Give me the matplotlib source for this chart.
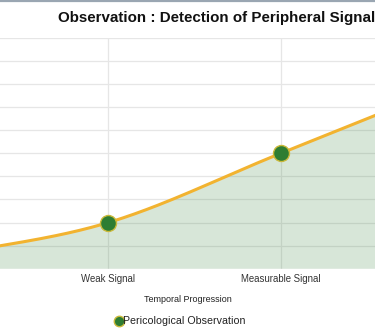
import numpy as np
import matplotlib.pyplot as plt
from matplotlib.lines import Line2D

# Data (first and last categories sit outside the visible crop)
categories = ["No Signal", "Weak Signal", "Measurable Signal", "Strong Signal"]
values = [0.5, 2, 5, 8]
series_label = "Pericological Observation"
other_label = "Threshold"

plt.rcParams["font.family"] = ["Liberation Sans", "DejaVu Sans"]

W, H = 375, 334
fig = plt.figure(figsize=(W / 100, H / 100), dpi=100)

# plot area: top gridline at y=38px, bottom at y=268.7px; categories 1,2 at x=108.3, 280.7
x_step = 172.4
x_lo = 1 - 108.3 / x_step
x_hi = 1 + (W - 108.3) / x_step
ax = fig.add_axes([0, (H - 268.7) / H, 1, (268.7 - 38) / H])

# smooth curve through the points (cardinal spline, like the web chart)
x = np.arange(len(values), dtype=float)
y = np.array(values, dtype=float)
m = np.gradient(y, x)
xs, ys = [], []
for i in range(len(x) - 1):
    t = np.linspace(0, 1, 60)
    h00 = 2 * t**3 - 3 * t**2 + 1
    h10 = t**3 - 2 * t**2 + t
    h01 = -2 * t**3 + 3 * t**2
    h11 = t**3 - t**2
    xs.append(x[i] + t)
    ys.append(h00 * y[i] + h10 * m[i] + h01 * y[i + 1] + h11 * m[i + 1])
xs = np.concatenate(xs)
ys = np.concatenate(ys)

ax.fill_between(xs, 0, ys, color="#2e7d32", alpha=0.19, lw=0, zorder=1)
ax.plot(xs, ys, color="#f2b330", lw=2.2, zorder=2, solid_capstyle="round")
ax.plot(x, y, "o", ms=11.5, mfc="#2e7d32", mec="#c9b93a", mew=1, zorder=3)

ax.set_xticks(x)
ax.set_xticklabels(categories, fontsize=6.9, color="#333333")
ax.set_yticks(np.arange(0, 11, 1))
ax.set_xlim(x_lo, x_hi)
ax.set_ylim(0, 10)
ax.tick_params(axis="x", length=0, pad=3.5)
ax.tick_params(axis="y", length=0, labelleft=False)
ax.grid(True, color="#e6e6e6", lw=0.9)
ax.set_axisbelow(True)
for s in ax.spines.values():
    s.set_visible(False)

ax.set_xlabel("Temporal Progression", fontsize=6.5, color="#222222")
ax.xaxis.set_label_coords(187.5 / W, -(295.5 - 268.7) / (268.7 - 38))

fig.text(58 / W, 1 - 18 / H, "Observation : Detection of Peripheral Signals",
         ha="left", va="center", fontsize=10.9, fontweight="bold", color="#111111")

# thin gray border along the top
fig.add_artist(Line2D([0, 1], [1 - 0.8 / H, 1 - 0.8 / H], color="#9aa6b2", lw=1.6))

handles = [
    Line2D([], [], ls="none", marker="o", ms=7.5, mfc="#2e7d32", mec="#c9b93a", mew=1),
    Line2D([], [], color="#999999", lw=1.2),
]
fig.legend(handles, [series_label, other_label], loc="center left",
           bbox_to_anchor=(114.5 / W, 1 - 321.5 / H), ncol=2, frameon=False,
           fontsize=7.7, handlelength=0.75, handletextpad=0.05,
           columnspacing=12.6, borderpad=0, borderaxespad=0, labelcolor="#222222")

fig.savefig("out.png", dpi=100)
